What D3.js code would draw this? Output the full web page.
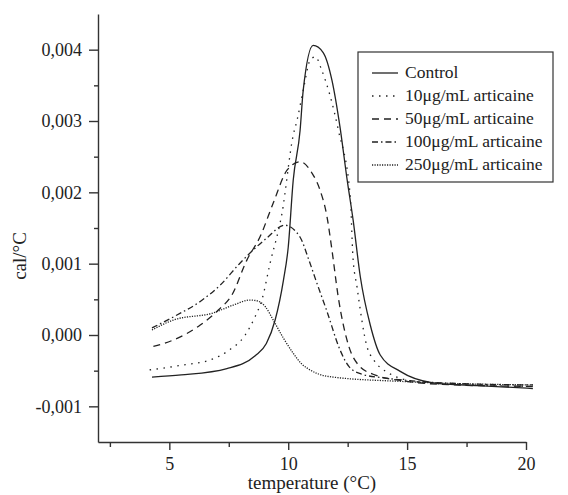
<!DOCTYPE html>
<html lang="en">
<head>
    <meta charset="UTF-8">
    <title>DSC curves</title>
    <script src="https://cdn.jsdelivr.net/npm/d3@7"></script>
    <style>
        body { margin: 0; background: #fff; }
        svg, svg text { font-family: "Liberation Serif", "Times New Roman", "DejaVu Serif", serif !important; }
        text { fill: #222; }
        .axis path, .axis line { stroke: #333; stroke-width: 1.4px; }
        .curve { fill: none; stroke: #222; stroke-width: 1.3px; }
    </style>
</head>
<body>
<script>
    // [temperature °C, cal/°C * 1000]
    let control = [[4.27,-0.59],[5.5,-0.56],[7.42,-0.47],[8.61,-0.29],[9.08,-0.12],[9.45,0.21],[9.8,0.77],
        [10.0,1.23],[10.21,2.17],[10.5,2.87],[10.63,3.43],[11.05,4.06],[11.47,3.96],[11.84,3.57],[12.18,2.91],
        [12.48,2.17],[12.73,1.61],[13.03,0.82],[13.45,0.14],[13.87,-0.28],[14.71,-0.51],[16.09,-0.67],[18,-0.71],[20.29,-0.75]];
    let c10 = [[4.17,-0.49],[5.59,-0.42],[6.72,-0.35],[7.48,-0.22],[8.19,0.0],[8.61,0.26],[8.89,0.49],[9.24,1.01],
        [9.74,1.71],[10.21,2.8],[10.37,3.01],[10.63,3.43],[10.92,3.85],[11.15,3.9],[11.4,3.72],[12.11,2.87],[12.61,1.94],
        [12.72,1.1],[12.89,0.68],[13.31,-0.16],[13.6,-0.35],[14.15,-0.52],[15.5,-0.66],[17.5,-0.7],[20.29,-0.72]];
    let c50 = [[4.33,-0.16],[5.17,-0.07],[6.3,0.14],[7.06,0.35],[7.63,0.56],[8.26,1.05],[8.82,1.38],[9.37,1.85],
        [9.95,2.31],[10.5,2.43],[11.0,2.27],[11.34,2.03],[11.63,1.66],[11.84,1.19],[12.1,0.54],[12.55,-0.16],
        [12.95,-0.42],[13.57,-0.55],[15,-0.65],[17,-0.7],[20.29,-0.72]];
    let c100 = [[4.27,0.1],[5.32,0.28],[6.3,0.47],[7.14,0.7],[7.98,1.01],[9.1,1.36],[9.85,1.54],[10.5,1.37],
        [10.85,1.07],[11.15,0.78],[11.63,0.33],[12.18,-0.21],[12.55,-0.44],[13.1,-0.55],[14,-0.6],[15.5,-0.65],[18,-0.69],[20.29,-0.7]];
    let c250 = [[4.27,0.07],[5.17,0.21],[6.85,0.31],[7.69,0.42],[8.4,0.49],[8.68,0.48],[9.03,0.4],[9.37,0.21],
        [9.79,-0.04],[10.2,-0.25],[10.55,-0.4],[10.92,-0.49],[11.3,-0.55],[11.89,-0.59],[14.71,-0.65],[17,-0.68],[20.29,-0.7]];

    let seriesNames = ['Control', '10μg/mL articaine', '50μg/mL articaine', '100μg/mL articaine', '250μg/mL articaine'];
    let seriesData = [control, c10, c50, c100, c250];
    let dashes = ['none', '1.5,5.5', '7,5', '6,3,1.5,3', '1.2,1.3'];

    let xTicks = [5, 10, 15, 20];
    let xMinor = [2.5, 7.5, 12.5, 17.5];
    let yTicks = [-0.001, 0, 0.001, 0.002, 0.003, 0.004];
    let yMinor = [-0.0005, 0.0005, 0.0015, 0.0025, 0.0035];

    let w = 568, h = 495;
    let svg = d3.select('body').append('svg').attr('width', w).attr('height', h);

    let x = d3.scaleLinear().domain([2, 20]).range([98, 526]);
    let y = d3.scaleLinear().domain([-0.0015, 0.0045]).range([442, 14]);

    let loc = d3.formatLocale({decimal: ',', thousands: '.', grouping: [3], currency: ['', ''], minus: '-'});
    let fmt = loc.format('.3f');

    // minor ticks first, then main axes
    svg.append('g').attr('class', 'axis').attr('transform', 'translate(0,442)')
        .call(d3.axisBottom(x).tickValues(xMinor).tickSize(5).tickFormat(''))
        .select('.domain').remove();
    svg.append('g').attr('class', 'axis').attr('transform', 'translate(98,0)')
        .call(d3.axisLeft(y).tickValues(yMinor).tickSize(4).tickFormat(''))
        .select('.domain').remove();

    svg.append('g').attr('class', 'axis').attr('transform', 'translate(0,442)')
        .call(d3.axisBottom(x).tickValues(xTicks).tickSize(8).tickSizeOuter(0).tickPadding(7));
    svg.append('g').attr('class', 'axis').attr('transform', 'translate(98,0)')
        .call(d3.axisLeft(y).tickValues(yTicks).tickSize(9).tickSizeOuter(0).tickPadding(7).tickFormat(fmt));
    svg.selectAll('.axis').attr('font-family', null);
    svg.selectAll('.axis text').style('font-size', '18px').attr('fill', '#222');

    svg.append('text').attr('x', 312).attr('y', 489).attr('text-anchor', 'middle')
        .style('font-size', '19px').text('temperature (°C)');
    svg.append('text').attr('transform', 'translate(26,256) rotate(-90)').attr('text-anchor', 'middle')
        .style('font-size', '19px').text('cal/°C');

    let line = d3.line()
        .x(d => x(d[0]))
        .y(d => y(d[1] / 1000))
        .curve(d3.curveMonotoneX);

    svg.selectAll('.curve').data(seriesData).enter().append('path')
        .attr('class', 'curve')
        .attr('d', line)
        .style('stroke-dasharray', (d, i) => dashes[i]);

    // legend
    let lg = svg.append('g');
    lg.append('rect').attr('x', 358).attr('y', 52).attr('width', 195).attr('height', 130)
        .attr('fill', '#fff').attr('stroke', '#333').attr('stroke-width', 1.2);
    seriesNames.forEach(function(name, i) {
        let yy = 73 + i * 23;
        lg.append('line').attr('x1', 372).attr('x2', 398).attr('y1', yy).attr('y2', yy)
            .attr('class', 'curve').style('stroke-dasharray', dashes[i]);
        lg.append('text').attr('x', 405).attr('y', yy + 5).style('font-size', '17.5px').text(name);
    });
</script>
</body>
</html>
